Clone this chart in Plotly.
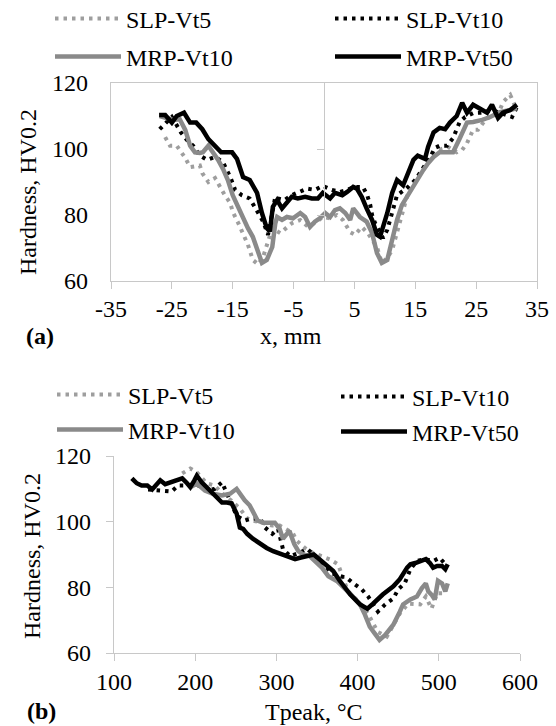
import plotly.graph_objects as go

W, H = 556, 726

# ---------------- (a) Hardness vs x, mm ----------------
a_slp5_x = [-26.1, -25.3, -24.2, -22.8, -22.0, -20.4, -20.0, -19.0, -17.9, -17.1, -16.3, -15.4, -15.0, -14.1,
            -13.3, -12.5, -11.7, -10.8, -10.0, -9.4, -8.5, -7.2, -6.1, -5.3, -3.9, -2.6, -1.2, -0.2, 1.0, 2.1,
            3.1, 4.3, 5.1, 6.2, 7.2, 8.7, 9.5, 10.4, 11.2, 12.0, 12.8, 13.8, 15.0, 16.1, 17.1, 18.2, 19.3,
            20.4, 21.8, 22.7, 23.5, 24.5, 25.3, 26.5, 27.6, 28.9, 29.4, 30.6, 31.7]
a_slp5_y = [103.6, 101.0, 101.0, 97.3, 94.5, 95.0, 92.7, 90.0, 91.2, 88.5, 86.0, 83.6, 81.0, 77.6,
            74.0, 71.0, 66.4, 65.0, 67.3, 71.0, 76.0, 74.5, 76.4, 77.5, 78.5, 76.4, 78.0, 79.4, 79.0, 80.0,
            78.5, 74.8, 74.0, 76.4, 74.5, 70.3, 65.5, 67.0, 69.4, 74.5, 80.0, 86.7, 90.0, 93.6, 96.7, 99.0, 100.0,
            100.6, 99.0, 99.7, 101.8, 105.8, 105.8, 108.8, 110.3, 111.8, 114.2, 116.4, 111.8]

a_slp10_x = [-27.0, -25.0, -23.5, -22.5, -21.5, -20.4, -19.2, -17.9, -16.6, -15.4, -14.6, -13.5, -12.2, -11.0,
             -10.0, -9.2, -8.0, -7.6, -6.5, -5.3, -4.3, -2.8, -1.5, -0.2, 1.3, 2.6, 3.8, 5.1, 6.4, 7.1, 7.6,
             7.9, 8.4, 9.7, 10.4, 11.3, 12.0, 13.5, 15.0, 16.2, 17.4, 18.2, 19.0, 20.2, 21.2, 22.3, 23.2,
             24.5, 26.0, 27.6, 28.9, 30.9, 31.7]
a_slp10_y = [106.0, 109.7, 105.0, 102.7, 101.0, 98.0, 96.7, 97.6, 96.0, 91.5, 87.6, 86.0, 85.0, 81.0,
             78.0, 74.0, 85.5, 85.0, 84.5, 86.0, 86.7, 88.0, 87.6, 88.8, 87.6, 87.0, 87.6, 88.5, 88.5, 86.0, 83.0,
             80.0, 77.5, 73.0, 75.5, 81.5, 86.0, 88.0, 90.6, 94.0, 97.3, 100.3, 101.0, 101.0, 103.3, 108.2, 109.7,
             110.9, 111.0, 111.8, 110.9, 109.7, 112.7]

a_mrp10_x = [-27.0, -25.8, -24.8, -23.7, -22.8, -22.0, -21.2, -20.4, -19.9, -19.0, -18.2, -17.4, -16.6, -15.8,
             -15.0, -14.1, -13.3, -12.5, -11.7, -10.8, -10.2, -9.4, -8.5, -8.0, -7.7, -6.9, -6.1, -5.1, -3.9,
             -3.1, -2.3, -1.5, -0.7, 0.2, 1.0, 1.8, 2.6, 3.5, 4.3, 4.8, 5.9, 7.0, 7.9, 8.7, 9.5, 10.4, 11.2,
             12.0, 12.8, 13.6, 14.6, 15.4, 16.3, 17.1, 18.0, 19.0, 20.4, 21.2, 22.3, 23.5, 24.5, 26.0, 27.3,
             28.9, 30.6, 31.7]
a_mrp10_y = [110.0, 109.4, 108.8, 109.0, 105.8, 101.0, 99.0, 98.8, 99.0, 101.0, 99.0, 96.7, 94.0, 90.6,
             86.0, 82.4, 78.5, 76.0, 73.4, 68.5, 65.5, 66.4, 70.3, 77.5, 79.4, 78.5, 79.4, 79.0, 80.6,
             79.4, 76.4, 78.0, 79.0, 80.6, 79.4, 81.5, 82.0, 80.6, 78.5, 82.0, 79.4, 78.0, 74.5, 68.5, 65.5, 66.4, 72.4,
             78.5, 83.0, 85.5, 88.5, 90.6, 93.6, 95.7, 97.6, 99.0, 99.0, 99.0, 103.2, 108.0, 108.2, 108.8, 109.7,
             111.2, 111.8, 112.4]

a_mrp50_x = [-27.1, -26.1, -25.0, -24.2, -23.0, -22.0, -21.0, -20.0, -19.0, -17.9, -16.9, -15.1, -14.3, -13.3,
             -12.2, -11.0, -10.2, -9.4, -8.9, -8.4, -7.7, -6.9, -6.1, -5.3, -4.3, -3.1, -2.0, -1.0, -0.2, 1.0,
             1.8, 3.0, 3.8, 4.8, 5.4, 6.2, 7.0, 7.9, 8.7, 9.2, 9.7, 10.4, 11.2, 12.0, 13.0, 13.8, 14.7, 15.4,
             16.6, 17.1, 18.0, 19.0, 19.9, 20.7, 21.8, 22.7, 23.5, 24.5, 25.6, 26.8, 27.6, 28.6, 29.4, 30.6, 31.7]
a_mrp50_y = [110.3, 110.3, 108.0, 110.0, 111.0, 108.0, 108.0, 106.0, 103.0, 101.0, 99.0, 99.0, 97.0, 91.5,
             90.6, 86.7, 80.6, 76.0, 75.0, 82.5, 84.5, 82.0, 83.6, 85.5, 85.0, 85.5, 85.0, 85.0, 86.7, 85.0,
             86.7, 86.0, 87.0, 88.5, 88.0, 85.5, 82.0, 78.5, 74.0, 73.4, 76.4, 80.6, 86.7, 90.6, 89.0, 92.7, 96.7, 98.0,
             97.0, 100.6, 105.0, 106.4, 106.0, 108.0, 110.0, 114.0, 111.0, 113.4, 112.4, 111.0, 113.4, 109.4, 111.0, 111.8, 113.4]

a_tickvals = [-35, -25, -15, -5, 5, 15, 25, 35]
a_ticktext = ["-35", "-25", "-15", "-5", "5", "15", "25", "35"]

# ---------------- (b) Hardness vs Tpeak ----------------
b_slp5_x = [184, 194, 202, 214, 224, 233, 244, 255, 264, 271, 282, 295, 304, 314, 320, 325, 335, 345, 355, 366,
            376, 388, 401, 413, 418, 425, 436, 444, 452, 462, 470, 477, 484, 491, 498, 505, 510]
b_slp5_y = [114.7, 116.2, 115.0, 111.7, 111.0, 108.6, 106.5, 104.0, 101.0, 100.3, 99.7, 98.8, 98.8, 97.2, 96.6,
            94.2, 92.0, 90.5, 89.5, 88.5, 87.0, 78.8, 75.7, 72.0, 69.5, 66.4, 65.0, 68.6, 72.0, 75.0, 74.8, 74.8,
            77.2, 73.5, 78.2, 78.2, 81.0]

b_slp10_x = [142, 165, 171, 179, 190, 200, 208, 216, 224, 233, 239, 243, 247, 251, 261, 270, 280, 286, 295, 302,
             308, 317, 328, 338, 350, 360, 368, 378, 387, 395, 405, 413, 425, 434, 444, 450, 458, 465, 473, 483,
             493, 501, 510]
b_slp10_y = [109.8, 109.2, 109.2, 111.0, 111.0, 111.5, 110.5, 109.5, 110.0, 112.0, 108.6, 106.5, 104.0, 101.8,
             100.3, 101.0, 101.0, 98.2, 96.3, 97.8, 91.7, 89.5, 90.5, 91.7, 89.0, 86.5, 84.3, 83.5, 82.8, 81.2,
             79.4, 77.2, 72.6, 74.8, 76.6, 79.4, 81.2, 85.5, 88.0, 88.6, 88.0, 89.0, 86.5]

b_mrp10_x = [194, 202, 212, 222, 233, 243, 251, 258, 261, 267, 277, 284, 292, 298, 304, 308, 316, 322, 327, 333,
             341, 348, 356, 364, 375, 391, 403, 409, 415, 421, 427, 434, 437, 444, 452, 456, 465, 473, 479, 484,
             487, 491, 495, 499, 504, 508, 511]
b_mrp10_y = [110.5, 111.6, 109.5, 108.5, 108.0, 108.5, 110.0, 107.4, 106.5, 105.0, 100.3, 99.7, 99.7, 99.7, 97.8,
             94.8, 97.2, 93.2, 91.0, 90.0, 89.5, 88.0, 86.0, 83.4, 81.8, 78.0, 74.8, 71.7, 68.0, 66.0, 64.0, 65.5,
             66.4, 68.6, 72.6, 74.8, 76.3, 77.2, 79.7, 81.2, 78.8, 77.8, 76.3, 82.0, 81.2, 78.8, 81.2]

b_mrp50_x = [122, 128, 134, 141, 147, 150, 157, 163, 169, 178, 184, 190, 194, 199, 202, 208, 214, 221, 227, 233,
             239, 245, 251, 255, 259, 264, 271, 280, 288, 296, 307, 317, 323, 329, 338, 346, 354, 362, 370, 378,
             391, 403, 412, 419, 431, 444, 452, 461, 465, 471, 477, 484, 489, 493, 498, 504, 508, 511]
b_mrp50_y = [113.2, 111.7, 111.0, 111.0, 109.8, 110.5, 112.6, 111.4, 112.0, 112.6, 113.2, 111.7, 110.5, 112.6,
             114.0, 112.0, 110.5, 109.0, 107.4, 105.8, 105.8, 105.5, 102.5, 98.2, 97.8, 96.3, 94.8, 93.2, 92.0,
             91.0, 90.0, 89.0, 88.6, 89.0, 89.5, 90.0, 88.3, 86.5, 85.0, 82.0, 77.8, 74.8, 73.5, 75.0, 77.8, 80.3,
             82.5, 86.0, 87.0, 87.4, 88.0, 88.6, 87.4, 86.0, 86.5, 86.5, 85.5, 87.0]

series_names = ["SLP-Vt5", "SLP-Vt10", "MRP-Vt10", "MRP-Vt50"]
a_data = [(a_slp5_x, a_slp5_y), (a_slp10_x, a_slp10_y), (a_mrp10_x, a_mrp10_y), (a_mrp50_x, a_mrp50_y)]
b_data = [(b_slp5_x, b_slp5_y), (b_slp10_x, b_slp10_y), (b_mrp10_x, b_mrp10_y), (b_mrp50_x, b_mrp50_y)]

FONT = "Liberation Serif, Times New Roman, serif"
AXC = "#c8c8c8"
styles = {
    "SLP-Vt5": dict(color="#9e9e9e", width=4, dash="3.5px,5px"),
    "SLP-Vt10": dict(color="#000000", width=4, dash="3.5px,5px"),
    "MRP-Vt10": dict(color="#8a8a8a", width=4.5),
    "MRP-Vt50": dict(color="#000000", width=4.5),
}

def fx(p):
    return p / W

def fy(p):
    return 1 - p / H

fig = go.Figure()

a_legends = ["legend", "legend2", "legend3", "legend4"]
b_legends = ["legend5", "legend6", "legend7", "legend8"]

for name, (xs, ys), lg in zip(series_names, a_data, a_legends):
    fig.add_trace(go.Scatter(x=xs, y=ys, mode="lines", name=name, line=styles[name],
                             xaxis="x", yaxis="y", legend=lg, hoverinfo="skip"))
for name, (xs, ys), lg in zip(series_names, b_data, b_legends):
    fig.add_trace(go.Scatter(x=xs, y=ys, mode="lines", name=name, line=styles[name],
                             xaxis="x2", yaxis="y2", legend=lg, hoverinfo="skip"))
# carrier for the vertical axis drawn at x = 0 in panel (a)
fig.add_trace(go.Scatter(x=[0], y=[None], mode="lines", xaxis="x", yaxis="y3",
                         showlegend=False, hoverinfo="skip"))

tickfont = dict(family=FONT, size=24, color="black")

fig.update_layout(
    width=W, height=H,
    margin=dict(l=0, r=0, t=0, b=0, autoexpand=False),
    paper_bgcolor="white", plot_bgcolor="white",
    showlegend=True,
    xaxis=dict(domain=[fx(111), fx(537)], range=[-35, 35],
               tickmode="array", tickvals=a_tickvals, ticktext=a_ticktext,
               showline=True, mirror=True, linecolor=AXC, linewidth=1.3,
               ticks="outside", ticklen=7, tickcolor=AXC, tickwidth=1.3,
               showgrid=False, zeroline=False, tickfont=tickfont, ticklabelstandoff=-1,
               anchor="y"),
    yaxis=dict(domain=[fy(281), fy(83)], range=[60, 120], dtick=20,
               showline=True, mirror=True, linecolor=AXC, linewidth=1.3,
               ticks="", showgrid=False, zeroline=False, tickfont=tickfont,
               ticklabelstandoff=17, anchor="x"),
    yaxis3=dict(overlaying="y", anchor="free", position=fx(324), range=[60, 120],
                showline=True, linecolor=AXC, linewidth=1.3, ticks="outside", ticklen=7,
                tickcolor=AXC, tickwidth=1.3, tickvals=[80, 100], showticklabels=False,
                showgrid=False, zeroline=False),
    xaxis2=dict(domain=[fx(114), fx(520)], range=[100, 600], dtick=100,
                showline=True, linecolor=AXC, linewidth=1.3,
                ticks="outside", ticklen=7, tickcolor=AXC, tickwidth=1.3,
                showgrid=False, zeroline=False, tickfont=tickfont, ticklabelstandoff=0,
                anchor="y2"),
    yaxis2=dict(domain=[fy(653), fy(456)], range=[60, 120], dtick=20,
                showline=True, linecolor=AXC, linewidth=1.3,
                ticks="outside", ticklen=7, tickcolor=AXC, tickwidth=1.3,
                showgrid=False, zeroline=False, tickfont=tickfont, ticklabelstandoff=10,
                anchor="x2"),
)

legfont = dict(family=FONT, size=24, color="black")
leg_pos = {
    "legend": (50, 19), "legend2": (330, 19), "legend3": (50, 57), "legend4": (330, 57),
    "legend5": (52, 395), "legend6": (336, 397), "legend7": (52, 430), "legend8": (336, 432),
}
for lg, (lx, ly) in leg_pos.items():
    fig.update_layout({lg: dict(x=fx(lx), y=fy(ly), xanchor="left", yanchor="middle",
                                xref="paper", yref="paper", bgcolor="rgba(0,0,0,0)",
                                font=legfont, itemwidth=66, borderwidth=0)})

annots = [
    dict(text="Hardness, HV0.2", x=fx(28), y=fy(192), textangle=-90),
    dict(text="Hardness, HV0.2", x=fx(32), y=fy(556), textangle=-90),
    dict(text="x, mm", x=fx(291), y=fy(336)),
    dict(text="Tpeak, °C", x=fx(314), y=fy(712)),
    dict(text="<b>(a)</b>", x=fx(40), y=fy(336)),
    dict(text="<b>(b)</b>", x=fx(41), y=fy(711)),
]
for a in annots:
    fig.add_annotation(xref="paper", yref="paper", showarrow=False, xanchor="center",
                       yanchor="middle", font=dict(family=FONT, size=24, color="black"), **a)

fig.write_html("out.html")
